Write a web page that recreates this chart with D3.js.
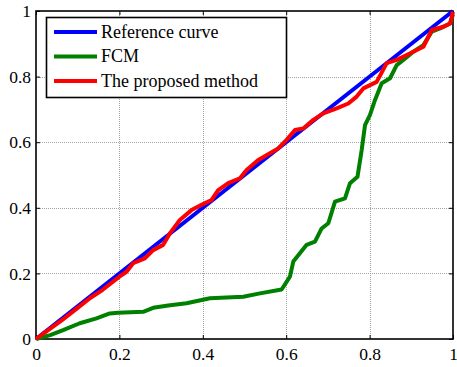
<!DOCTYPE html>
<html>
<head>
<meta charset="utf-8">
<script src="https://cdn.jsdelivr.net/npm/d3@7"></script>
<style>
  body { margin: 0; background: #fff; }
  svg { display: block; }
  svg text { font-family: "Liberation Serif", "Times New Roman", serif !important; }
</style>
</head>
<body>
<figure id="chart" style="margin:0"></figure>
<script>
// Data
const refX = [0, 1];
const refY = [0, 1];

const fcmX = [0, 0.034, 0.065, 0.105, 0.145, 0.177, 0.197, 0.257, 0.281, 0.317, 0.361, 0.417, 0.497, 0.537, 0.589,
  0.609, 0.617, 0.649, 0.669, 0.685, 0.701, 0.717, 0.741, 0.753, 0.771, 0.781, 0.789, 0.801, 0.813, 0.829,
  0.849, 0.865, 0.881, 0.905, 0.929, 0.949, 0.969, 0.993, 1];
const fcmY = [0, 0.012, 0.027, 0.048, 0.063, 0.078, 0.08, 0.083, 0.095, 0.102, 0.109, 0.124, 0.129, 0.139, 0.151,
  0.19, 0.236, 0.287, 0.297, 0.337, 0.353, 0.419, 0.429, 0.475, 0.495, 0.576, 0.652, 0.683, 0.729, 0.78,
  0.795, 0.835, 0.851, 0.876, 0.896, 0.937, 0.947, 0.962, 0.99];

const propX = [0, 0.03, 0.06, 0.1, 0.13, 0.16, 0.18, 0.2, 0.217, 0.233, 0.261, 0.281, 0.305, 0.321, 0.345,
  0.373, 0.397, 0.421, 0.437, 0.461, 0.489, 0.505, 0.533, 0.561, 0.581, 0.601, 0.621, 0.641, 0.665, 0.689,
  0.721, 0.749, 0.769, 0.785, 0.817, 0.841, 0.865, 0.889, 0.929, 0.949, 0.977, 0.993, 1];
const propY = [0, 0.028, 0.055, 0.095, 0.125, 0.15, 0.17, 0.19, 0.205, 0.231, 0.246, 0.271, 0.287, 0.322, 0.363,
  0.393, 0.409, 0.424, 0.454, 0.475, 0.49, 0.515, 0.546, 0.566, 0.581, 0.607, 0.637, 0.642, 0.668, 0.688,
  0.703, 0.718, 0.739, 0.764, 0.784, 0.841, 0.851, 0.866, 0.891, 0.942, 0.952, 0.962, 0.998];

const seriesNames = ["Reference curve", "FCM", "The proposed method"];
const seriesColors = ["#0000ff", "#008000", "#ff0000"];
const xTicks = [0, 0.2, 0.4, 0.6, 0.8, 1];
const yTicks = [0, 0.2, 0.4, 0.6, 0.8, 1];

const width = 457, height = 367;
const plotLeft = 36, plotRight = 453, plotTop = 11, plotBottom = 339;
const serif = "'Liberation Serif', 'Times New Roman', serif";

const x = d3.scaleLinear().domain([0, 1]).range([plotLeft, plotRight]);
const y = d3.scaleLinear().domain([0, 1]).range([plotBottom, plotTop]);

const svg = d3.select("#chart").append("svg")
  .attr("width", width)
  .attr("height", height)
  .attr("font-family", serif);

// Grid
const grid = svg.append("g")
  .attr("stroke", "#8c8c8c")
  .attr("stroke-width", 1)
  .attr("stroke-dasharray", "1,1")
  .attr("opacity", 0.8);
grid.selectAll("line.gx")
  .data(xTicks.slice(1, -1))
  .join("line")
  .attr("class", "gx")
  .attr("x1", d => Math.round(x(d)) + 0.5).attr("x2", d => Math.round(x(d)) + 0.5)
  .attr("y1", plotTop).attr("y2", plotBottom);
grid.selectAll("line.gy")
  .data(yTicks.slice(1, -1))
  .join("line")
  .attr("class", "gy")
  .attr("y1", d => Math.round(y(d)) + 0.5).attr("y2", d => Math.round(y(d)) + 0.5)
  .attr("x1", plotLeft).attr("x2", plotRight);

// Axes with inward ticks, on all four sides
const axisFont = 17.5;
const xAxis = svg.append("g")
  .attr("transform", `translate(0,${plotBottom})`)
  .call(d3.axisBottom(x).tickValues(xTicks).tickSize(-4).tickPadding(10).tickFormat(d3.format("")));
const yAxis = svg.append("g")
  .attr("transform", `translate(${plotLeft},0)`)
  .call(d3.axisLeft(y).tickValues(yTicks).tickSize(-4).tickPadding(5).tickFormat(d3.format("")));
svg.append("g")
  .attr("transform", `translate(0,${plotTop})`)
  .call(d3.axisTop(x).tickValues(xTicks).tickSize(-4).tickFormat(""));
svg.append("g")
  .attr("transform", `translate(${plotRight},0)`)
  .call(d3.axisRight(y).tickValues(yTicks).tickSize(-4).tickFormat(""));

svg.selectAll(".domain").remove();
svg.selectAll(".tick").select(function () { return this.parentNode; })
  .attr("font-family", serif)
  .attr("font-size", axisFont);
svg.selectAll(".tick line").attr("stroke", "#000");
svg.selectAll(".tick text")
  .attr("font-family", serif)
  .attr("font-size", axisFont)
  .attr("fill", "#000");
xAxis.selectAll(".tick text").attr("dy", "0.6em");

// Box
svg.append("rect")
  .attr("x", plotLeft).attr("y", plotTop)
  .attr("width", plotRight - plotLeft).attr("height", plotBottom - plotTop)
  .attr("fill", "none")
  .attr("stroke", "#000")
  .attr("stroke-width", 1.6);

// Curves
const line = d3.line().x(d => x(d[0])).y(d => y(d[1]));
const series = [
  d3.zip(refX, refY),
  d3.zip(fcmX, fcmY),
  d3.zip(propX, propY)
];
svg.append("g")
  .selectAll("path")
  .data(series)
  .join("path")
  .attr("d", line)
  .attr("fill", "none")
  .attr("stroke", (d, i) => seriesColors[i])
  .attr("stroke-width", 4)
  .attr("stroke-linejoin", "round");

// Legend
const legend = svg.append("g");
legend.append("rect")
  .attr("x", 46.5).attr("y", 17.5)
  .attr("width", 240).attr("height", 80)
  .attr("fill", "#fff")
  .attr("stroke", "#000")
  .attr("stroke-width", 1.6);
const rows = legend.selectAll("g.row")
  .data(seriesNames)
  .join("g")
  .attr("transform", (d, i) => `translate(0,${32 + i * 24.5})`);
rows.append("line")
  .attr("x1", 54).attr("x2", 97)
  .attr("stroke", (d, i) => seriesColors[i])
  .attr("stroke-width", 4);
rows.append("text")
  .attr("x", 101)
  .attr("dy", "0.33em")
  .attr("font-size", 18)
  .text(d => d);
</script>
</body>
</html>
